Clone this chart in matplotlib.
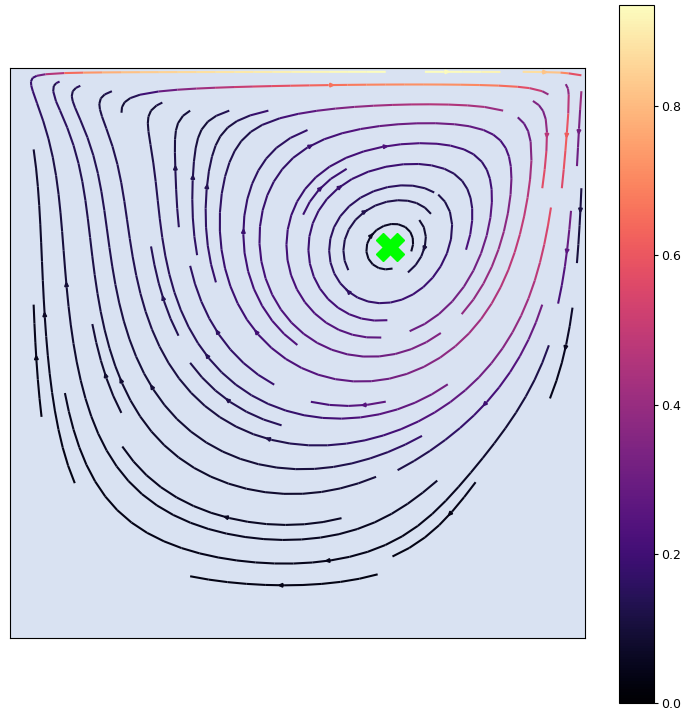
import numpy as np
import matplotlib
matplotlib.use("Agg")
import matplotlib.pyplot as plt

# Lid-driven cavity parameters
LID_SPEED = 1.0
REYNOLDS = 400.0
N_NODES = 81
END_TIME = 5.1
SPEED_FLOOR = 0.03
CBAR_TICKS = [0.0, 0.2, 0.4, 0.6, 0.8]


def vortex_center(psi, h):
    """Sub-grid location of the stream-function minimum."""
    j, i = np.unravel_index(np.argmin(psi), psi.shape)
    j = min(max(j, 1), psi.shape[0] - 2)
    i = min(max(i, 1), psi.shape[1] - 2)

    def refine(a, b, c0):
        d = a - 2 * b + c0
        return 0.0 if d == 0 else 0.5 * (a - c0) / d

    dx = refine(psi[j, i - 1], psi[j, i], psi[j, i + 1])
    dy = refine(psi[j - 1, i], psi[j, i], psi[j + 1, i])
    return (i + dx) * h, (j + dy) * h


def solve_cavity(n, re, u_lid, t_end):
    """Vorticity / stream-function solver on the unit square, moving lid on top."""
    h = 1.0 / (n - 1)
    m = n - 2
    k = np.arange(1, m + 1)
    S = np.sin(np.pi * np.outer(k, k) / (m + 1))
    lam = (2.0 * np.cos(np.pi * k / (m + 1)) - 2.0) / h**2
    denom = lam[:, None] + lam[None, :]
    c = 2.0 / (m + 1)
    psi = np.zeros((n, n))
    w = np.zeros((n, n))
    dt = 0.4 * min(0.25 * h * h * re, h / u_lid)
    steps = int(round(t_end / dt))
    for _ in range(steps + 1):
        # stream function from vorticity (sine-transform Poisson solve)
        rhs = -w[1:-1, 1:-1]
        rhat = c * c * (S @ rhs @ S)
        psi[1:-1, 1:-1] = S @ (rhat / denom) @ S
        # wall vorticity (Thom)
        w[0, :] = -2.0 * psi[1, :] / h**2
        w[-1, :] = -2.0 * (psi[-2, :] + h * u_lid) / h**2
        w[:, 0] = -2.0 * psi[:, 1] / h**2
        w[:, -1] = -2.0 * psi[:, -2] / h**2
        # vorticity transport
        u = (psi[2:, 1:-1] - psi[:-2, 1:-1]) / (2 * h)
        v = -(psi[1:-1, 2:] - psi[1:-1, :-2]) / (2 * h)
        wx = (w[1:-1, 2:] - w[1:-1, :-2]) / (2 * h)
        wy = (w[2:, 1:-1] - w[:-2, 1:-1]) / (2 * h)
        lap = (w[1:-1, 2:] + w[1:-1, :-2] + w[2:, 1:-1] + w[:-2, 1:-1]
               - 4.0 * w[1:-1, 1:-1]) / h**2
        w[1:-1, 1:-1] += dt * (-u * wx - v * wy + lap / re)
    return psi, h


psi, h = solve_cavity(N_NODES, REYNOLDS, LID_SPEED, END_TIME)

# velocities at cell centres
uc = ((psi[1:, :-1] + psi[1:, 1:]) - (psi[:-1, :-1] + psi[:-1, 1:])) / (2 * h)
vc = -((psi[:-1, 1:] + psi[1:, 1:]) - (psi[:-1, :-1] + psi[1:, :-1])) / (2 * h)
xc = (np.arange(N_NODES - 1) + 0.5) * h
yc = (np.arange(N_NODES - 1) + 0.5) * h
speed = np.hypot(uc, vc)
cx, cy = vortex_center(psi, h)

# streamlines stop in the near-stagnant fluid
still = speed < SPEED_FLOOR
um = np.ma.masked_where(still, uc)
vm = np.ma.masked_where(still, vc)

fig = plt.figure(figsize=(6.81, 7.14), dpi=100)
ax = fig.add_axes([0.0154, 0.1064, 0.8436, 0.798])
cax = fig.add_axes([0.909, 0.0154, 0.0514, 0.9776])
ax.set_facecolor('#d9e2f2')

strm = ax.streamplot(xc, yc, um, vm, color=speed, cmap='magma',
                     linewidth=1.5, density=1.0, arrowsize=0.5)
ax.plot(cx, cy, marker='X', color='#00ff00', markersize=20, linestyle='none')
ax.set_xlim(0, 1)
ax.set_ylim(0, 1)
ax.set_xticks([])
ax.set_yticks([])

cb = fig.colorbar(strm.lines, cax=cax)
cb.set_ticks(CBAR_TICKS)
cax.tick_params(length=3, pad=2, labelsize=9)

fig.savefig('out.png', dpi=100)
